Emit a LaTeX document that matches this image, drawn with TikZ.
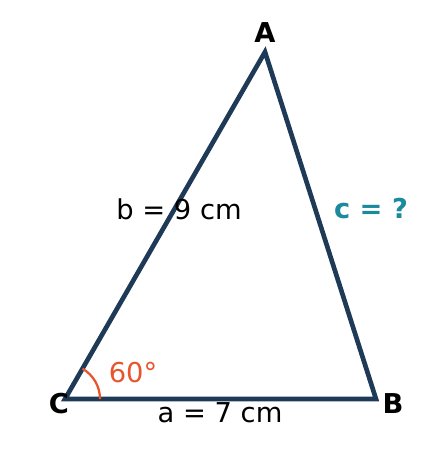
\documentclass[tikz,border=0pt]{standalone}
\usepackage{fontspec}
\setmainfont{DejaVu Sans}
\definecolor{navy}{HTML}{1F3A57}
\definecolor{tealc}{HTML}{1A8A9C}
\definecolor{angleorange}{HTML}{E8552B}
\tikzset{
  vertex/.style={font=\bfseries\fontsize{20.5}{24}\selectfont, text=black},
  sidelabel/.style={font=\fontsize{20.5}{24}\selectfont, text=black},
}
\begin{document}
\begin{tikzpicture}[x=0.75pt,y=-0.75pt]
        \useasboundingbox (0,0) rectangle (440,473);
        \coordinate (C) at (65,399);
        \coordinate (B) at (376,399);
        \coordinate (A) at (265,52);

        \draw [navy, line width=3.5pt, line join=miter] (C) -- (B) -- (A) -- cycle;

        % angle at C
        \draw [angleorange, line width=1.7pt] (C) ++(35,0) arc [start angle=0, end angle=60, radius=35*0.75pt];

        \node [vertex] (labA) at (265,33) {A};
        \node [vertex] (labB) at (393,404) {B};
        \node [vertex] (labC) at (59,404) {C};

        \node [sidelabel] (sideb) at (179,209) {b = 9 cm};
        \node [sidelabel] (sidea) at (220,413) {a = 7 cm};
        \node [sidelabel, text=tealc, font=\bfseries\fontsize{20.5}{24}\selectfont] (sidec) at (371,209) {c = ?};
        \node [sidelabel, text=angleorange] (ang) at (133,373) {60°};
\end{tikzpicture}
\end{document}
